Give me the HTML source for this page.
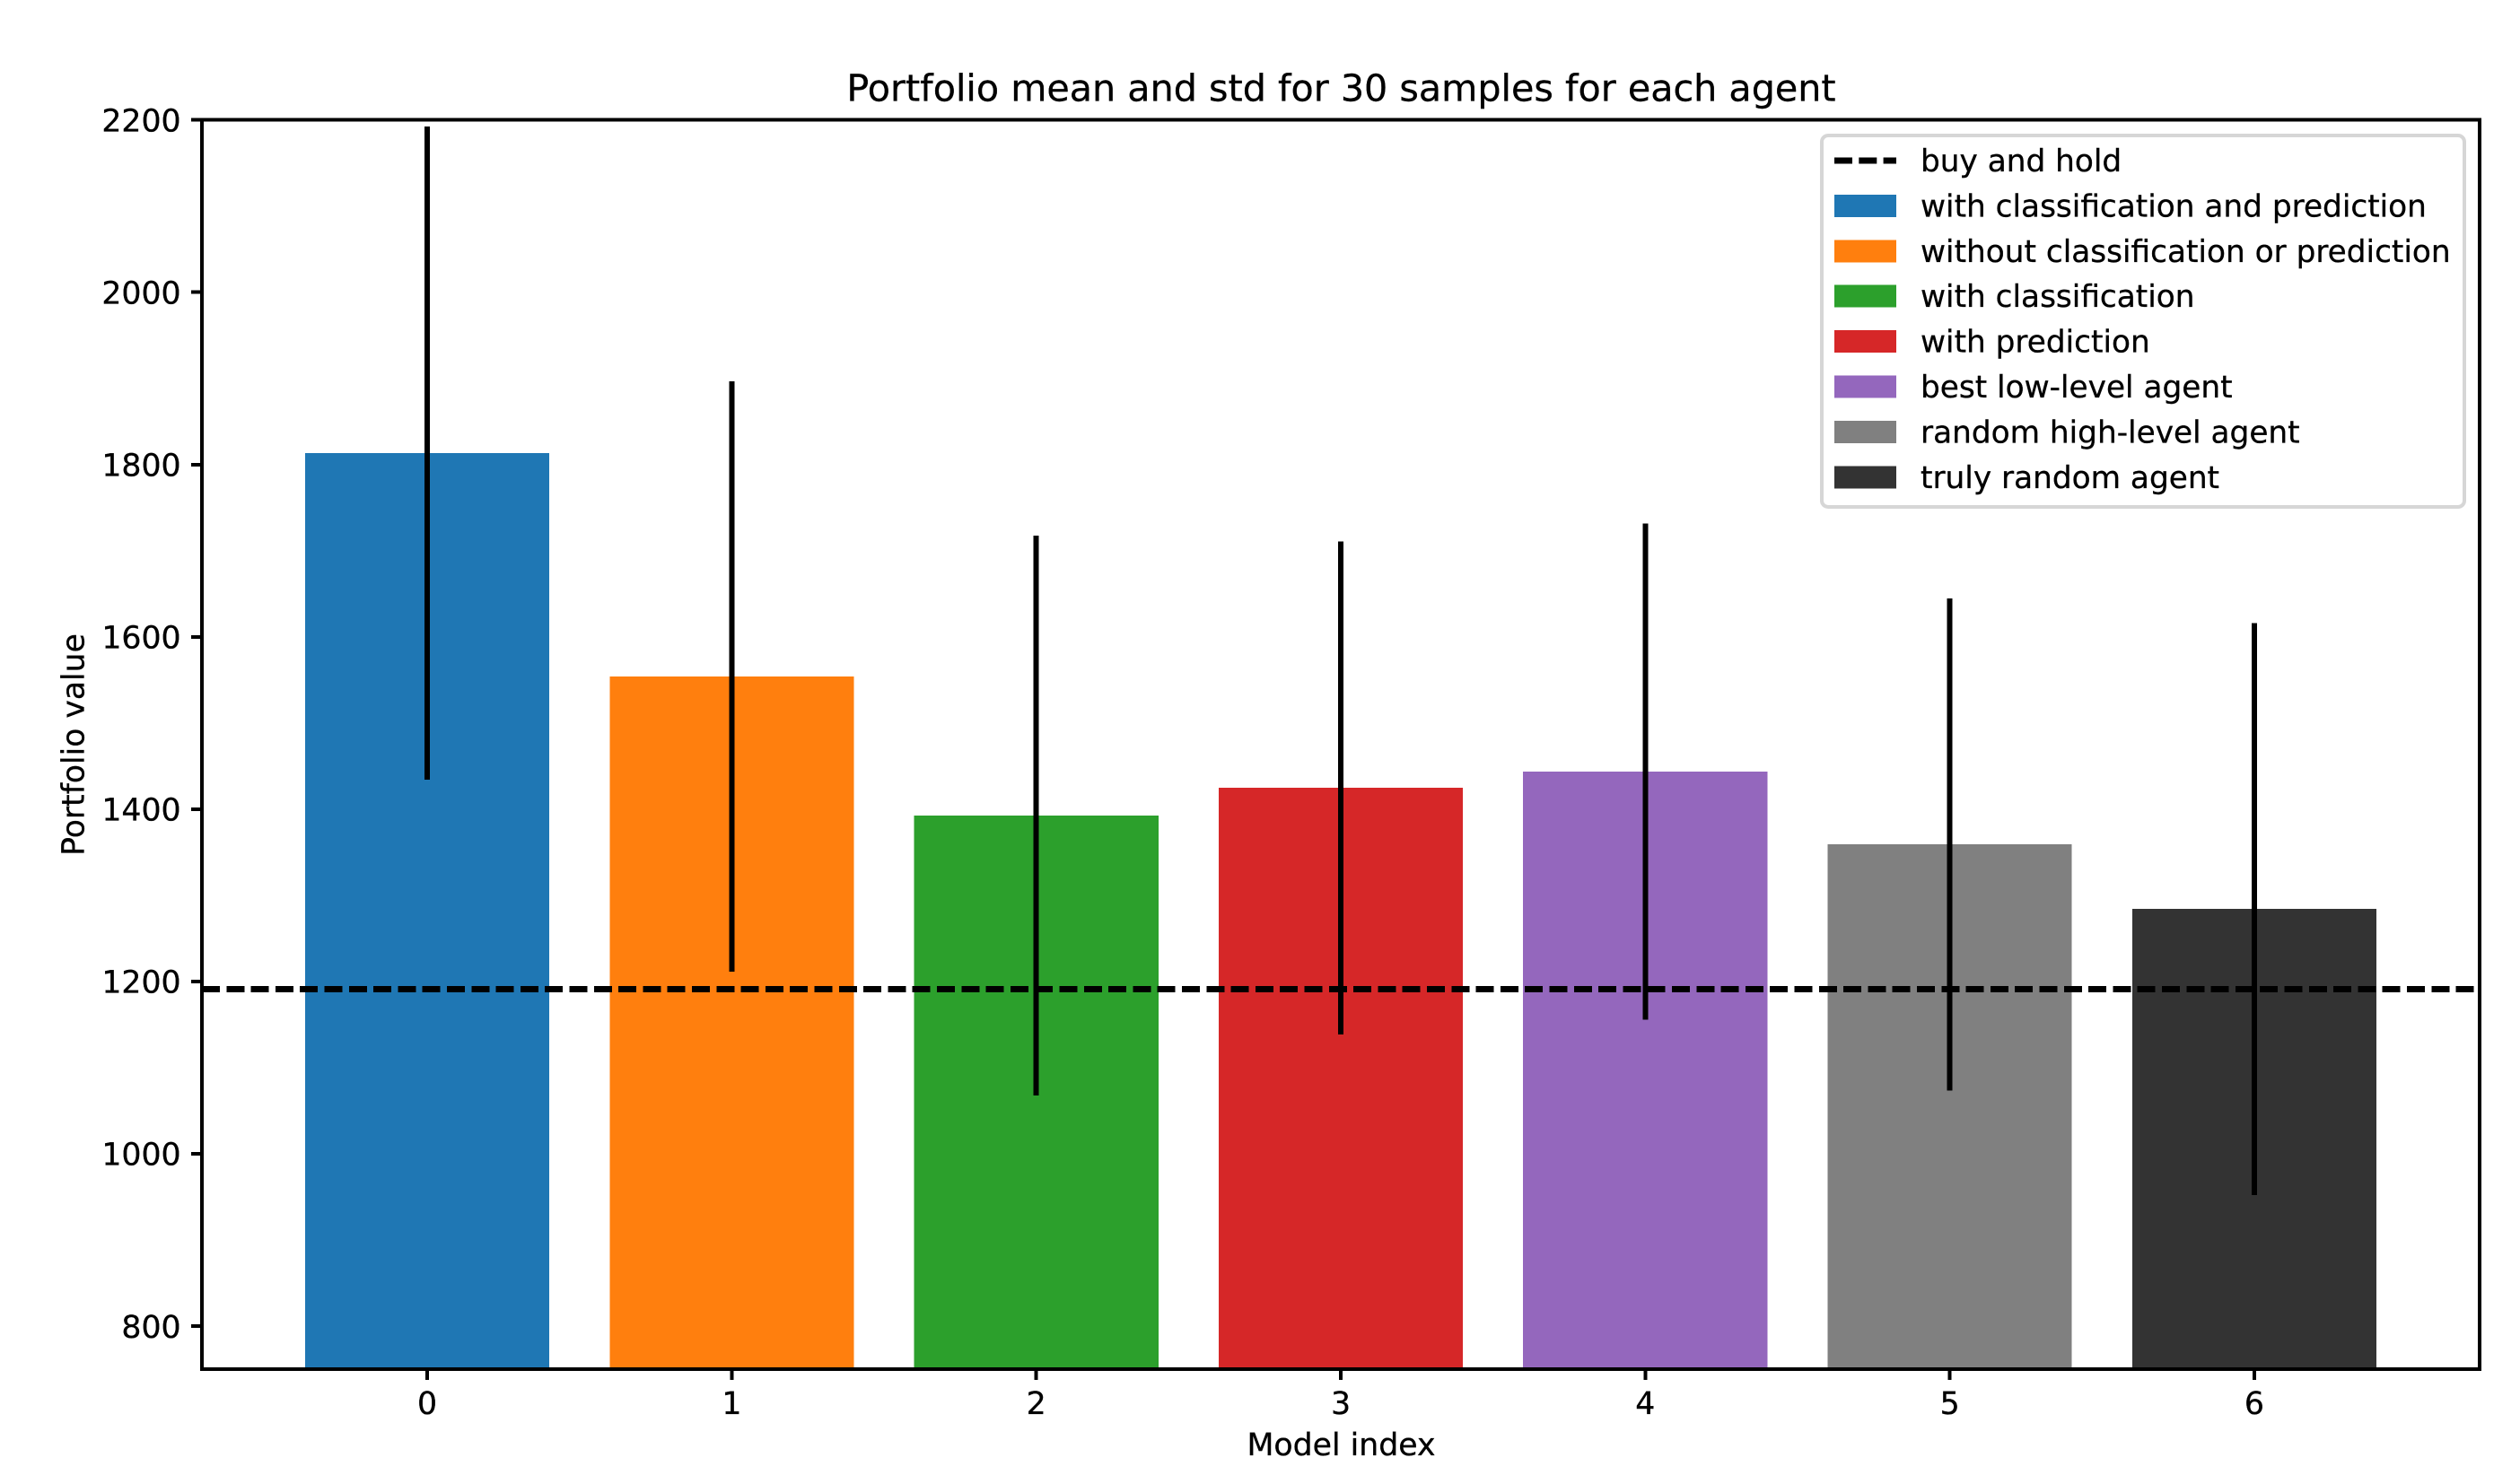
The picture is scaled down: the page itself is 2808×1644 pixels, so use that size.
<!DOCTYPE html>
<html lang="en">
<head>
<meta charset="utf-8">
<title>Portfolio mean and std for 30 samples for each agent</title>
<style>
  html, body { margin: 0; padding: 0; background: #ffffff; }
  body { width: 2808px; height: 1644px; overflow: hidden; }
  svg { display: block; }
  text { font-family: "DejaVu Sans", "Liberation Sans", sans-serif; fill: #000000; stroke: #000000; stroke-width: 0.3; text-rendering: geometricPrecision; }
  #bars, #errors, #reference, #axes, #x-axis line, #y-axis line, #legend rect { shape-rendering: crispEdges; }
</style>
</head>
<body>
<svg id="chart" xmlns="http://www.w3.org/2000/svg" width="2808" height="1644" viewBox="0 0 2808 1644">
  <rect x="0" y="0" width="2808" height="1644" fill="#ffffff"></rect>
  <g id="bars"></g>
  <g id="errors"></g>
  <g id="reference"></g>
  <g id="axes"></g>
  <g id="x-axis"></g>
  <g id="y-axis"></g>
  <text x="1494.5" y="112.5" font-size="41.26" text-anchor="middle">Portfolio mean and std for 30 samples for each agent</text>
  <text x="1494.5" y="1622" font-size="34.7" text-anchor="middle">Model index</text>
  <text x="0" y="0" font-size="34.6" text-anchor="middle" transform="translate(93.3 830) rotate(-90)">Portfolio value</text>
  <g id="legend"></g>
</svg>
<script>
const categories = [0, 1, 2, 3, 4, 5, 6];
const meanValues = [1813.2, 1553.9, 1392.4, 1424.7, 1443.4, 1359, 1284];
const stdValues = [379, 342.5, 325, 286, 288, 285.6, 332.2];
const buyAndHold = [1191];
const yTickValues = [800, 1000, 1200, 1400, 1600, 1800, 2000, 2200];
const seriesLabels = [
  "with classification and prediction",
  "without classification or prediction",
  "with classification",
  "with prediction",
  "best low-level agent",
  "random high-level agent",
  "truly random agent"
];
const referenceLabel = "buy and hold";
const seriesColors = ["#1f77b4", "#ff7f0e", "#2ca02c", "#d62728", "#9467bd", "#808080", "#333333"];

const NS = "http://www.w3.org/2000/svg";
const plot = { left: 225, right: 2763, top: 133.7, bottom: 1526 };
const xDomain = [-0.74, 6.74];
const yDomain = [750, 2200];
const barWidth = 0.802;

function xScale(v) {
  return plot.left + (v - xDomain[0]) / (xDomain[1] - xDomain[0]) * (plot.right - plot.left);
}
function yScale(v) {
  return plot.bottom - (v - yDomain[0]) / (yDomain[1] - yDomain[0]) * (plot.bottom - plot.top);
}
function make(tag, attrs, parent) {
  const el = document.createElementNS(NS, tag);
  for (const key in attrs) el.setAttribute(key, attrs[key]);
  parent.appendChild(el);
  return el;
}

const barsGroup = document.getElementById("bars");
const errorsGroup = document.getElementById("errors");
const referenceGroup = document.getElementById("reference");
const axesGroup = document.getElementById("axes");
const xAxisGroup = document.getElementById("x-axis");
const yAxisGroup = document.getElementById("y-axis");
const legendGroup = document.getElementById("legend");

categories.forEach(function (cat, i) {
  const x0 = xScale(cat - barWidth / 2);
  const x1 = xScale(cat + barWidth / 2);
  const yTop = yScale(meanValues[i]);
  const bar = make("rect", { x: x0, y: yTop, width: x1 - x0, height: plot.bottom - yTop, fill: seriesColors[i] }, barsGroup);
  
  

  const err = make("line", {
    x1: xScale(cat), x2: xScale(cat),
    y1: yScale(meanValues[i] + stdValues[i]),
    y2: yScale(meanValues[i] - stdValues[i]),
    stroke: "#000000", "stroke-width": 6
  }, errorsGroup);
  
  
});

const refLine = make("line", {
  x1: plot.left, x2: plot.right,
  y1: yScale(buyAndHold[0]), y2: yScale(buyAndHold[0]),
  stroke: "#000000", "stroke-width": 7, "stroke-dasharray": "20 7.3"
}, referenceGroup);



const frame = make("rect", {
  x: plot.left, y: plot.top, width: plot.right - plot.left, height: plot.bottom - plot.top,
  fill: "none", stroke: "#000000", "stroke-width": 4
}, axesGroup);



categories.forEach(function (cat) {
  const tick = make("line", {
    x1: xScale(cat), x2: xScale(cat), y1: plot.bottom, y2: plot.bottom + 12,
    stroke: "#000000", "stroke-width": 4
  }, xAxisGroup);
  
  
  const label = make("text", {
    x: xScale(cat), y: plot.bottom + 50, "font-size": 34.7, "text-anchor": "middle"
  }, xAxisGroup);
  label.textContent = String(cat);
  
  
});

yTickValues.forEach(function (val) {
  const tick = make("line", {
    x1: plot.left - 12, x2: plot.left, y1: yScale(val), y2: yScale(val),
    stroke: "#000000", "stroke-width": 4
  }, yAxisGroup);
  
  
  const label = make("text", {
    x: 201.6, y: yScale(val) + 12.8, "font-size": 34.7, "text-anchor": "end"
  }, yAxisGroup);
  label.textContent = String(val);
  
  
});

const legendBox = { x: 2030, y: 151, w: 716, h: 414, rowStart: 179, rowStep: 50.4, handleX: 2044, handleW: 69, patchH: 25, textX: 2140, fontSize: 34.3 };
const frameBox = make("rect", {
  x: legendBox.x, y: legendBox.y, width: legendBox.w, height: legendBox.h, rx: 7, ry: 7,
  fill: "#ffffff", "fill-opacity": 0.8, stroke: "#d6d6d6", "stroke-width": 4,
  style: "shape-rendering:auto"
}, legendGroup);



const refHandle = make("line", {
  x1: legendBox.handleX, x2: legendBox.handleX + legendBox.handleW,
  y1: legendBox.rowStart, y2: legendBox.rowStart,
  stroke: "#000000", "stroke-width": 7, "stroke-dasharray": "20 7.3"
}, legendGroup);


const refText = make("text", {
  x: legendBox.textX, y: legendBox.rowStart + 12, "font-size": legendBox.fontSize
}, legendGroup);
refText.textContent = referenceLabel;



seriesLabels.forEach(function (name, i) {
  const rowY = legendBox.rowStart + legendBox.rowStep * (i + 1);
  const patch = make("rect", {
    x: legendBox.handleX, y: rowY - legendBox.patchH / 2,
    width: legendBox.handleW, height: legendBox.patchH, fill: seriesColors[i]
  }, legendGroup);
  
  
  const text = make("text", { x: legendBox.textX, y: rowY + 12, "font-size": legendBox.fontSize }, legendGroup);
  text.textContent = name;
  
  
});
</script>
</body>
</html>
